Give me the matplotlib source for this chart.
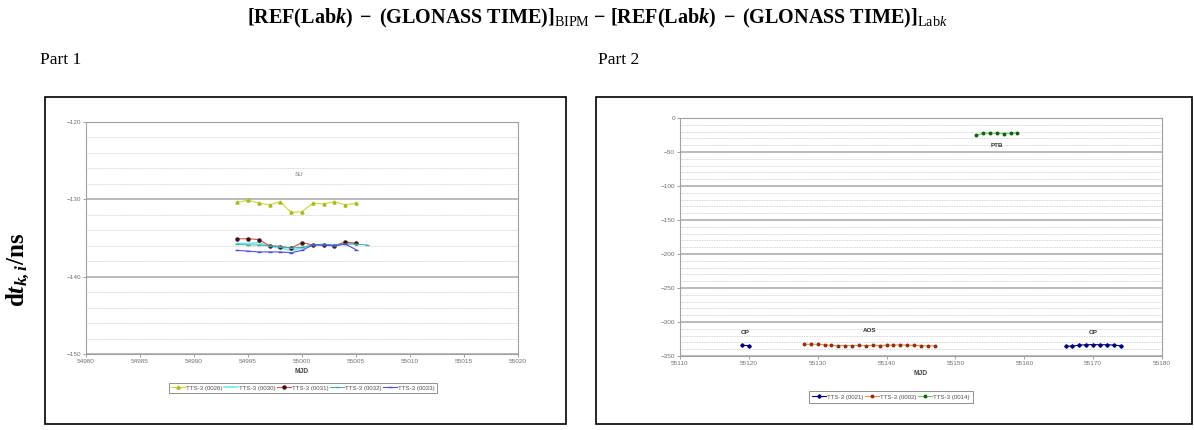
import matplotlib
matplotlib.use('Agg')
import matplotlib.pyplot as plt
from matplotlib.patches import Rectangle
from matplotlib.ticker import MultipleLocator

plt.rcParams['mathtext.fontset'] = 'custom'
plt.rcParams['mathtext.rm'] = 'Liberation Serif'
plt.rcParams['mathtext.bf'] = 'Liberation Serif:bold'
plt.rcParams['mathtext.it'] = 'Liberation Serif:italic'
plt.rcParams['mathtext.bfit'] = 'Liberation Serif:bold:italic'

# Part 1 data (MJD, ns)
mjd1 = [54994, 54995, 54996, 54997, 54998, 54999, 55000, 55001, 55002, 55003, 55004, 55005]
mjd1_ext = mjd1 + [55006]
tts_0026 = [-130.4, -130.1, -130.5, -130.7, -130.3, -131.7, -131.6, -130.5, -130.6, -130.3, -130.7, -130.5]
tts_0030 = [-135.7, -135.7, -135.6, -136.1, -136.3, -136.6, -136.3, -135.9, -135.9, -136.0, -135.7, -135.6]
tts_0031 = [-135.1, -135.1, -135.2, -136.0, -136.1, -136.3, -135.6, -135.9, -135.9, -136.0, -135.5, -135.7]
tts_0032 = [-135.8, -135.9, -135.9, -136.0, -136.1, -136.3, -136.2, -135.9, -135.8, -135.9, -135.8, -135.8, -135.9]
tts_0033 = [-136.6, -136.7, -136.8, -136.8, -136.8, -136.9, -136.6, -135.9, -135.9, -136.0, -135.8, -136.5]

# Part 2 data
mjd_op1 = [55119, 55120]
op1 = [-334.4, -334.6]
mjd_aos = list(range(55128, 55148))
aos = [-333.0, -332.6, -332.8, -333.4, -334.4, -334.9, -334.8, -334.6, -334.5, -334.7,
       -334.3, -334.6, -334.2, -333.8, -333.6, -334.0, -334.3, -334.7, -335.2, -335.0]
mjd_ptb = list(range(55153, 55160))
ptb = [-25.7, -22.3, -22.3, -22.3, -22.8, -22.3, -21.8]
mjd_op2 = list(range(55166, 55175))
op2 = [-335.6, -335.4, -334.0, -333.5, -333.2, -333.4, -333.5, -333.9, -335.0]

W, H = 1194, 430
fig = plt.figure(figsize=(W / 100, H / 100), dpi=100)

def fx(x):
    return x / W

def fy(y):
    return 1 - y / H

small = dict(family='Liberation Sans', size=4.5, color='#707070')

def style_axes(ax, ymaj, ymin):
    for s in ax.spines.values():
        s.set_color('#a0a0a0')
        s.set_linewidth(0.8)
    ax.yaxis.set_major_locator(MultipleLocator(ymaj))
    ax.yaxis.set_minor_locator(MultipleLocator(ymin))
    ax.grid(axis='y', which='major', color='#b4b4b4', lw=1.3)
    ax.grid(axis='y', which='minor', color='#c8c8c8', lw=0.6, ls=(0, (1, 1)))
    ax.set_axisbelow(True)
    ax.tick_params(which='both', length=2, width=0.6, color='#909090', pad=1.5,
                   labelsize=4.6, labelcolor='#707070')
    ax.tick_params(which='minor', length=0)
    for lab in ax.get_xticklabels() + ax.get_yticklabels():
        lab.set_family('Liberation Sans')
    ax.set_xlabel('MJD', family='Liberation Sans', size=4.8, weight='bold', color='#404040', labelpad=3)

# frames
fig.patches.append(Rectangle((fx(45), fy(424)), fx(521), 327 / H, transform=fig.transFigure,
                             fill=False, ec='black', lw=1.2))
fig.patches.append(Rectangle((fx(596), fy(424)), fx(596), 327 / H, transform=fig.transFigure,
                             fill=False, ec='black', lw=1.2))

# left chart
ax1 = fig.add_axes([fx(86), fy(354), fx(432), 232 / H])
ax1.plot(mjd1, tts_0026, color='#c8d838', lw=0.8, marker='^', ms=2.2, mfc='#a8b820', mec='#a8b820', label='TTS-3 (0026)')
ax1.plot(mjd1, tts_0030, color='#70e8f0', lw=1.2, label='TTS-3 (0030)')
ax1.plot(mjd1, tts_0031, color='#d05050', lw=0.8, marker='o', ms=2.2, mfc='#401010', mec='#401010', label='TTS-3 (0031)')
ax1.plot(mjd1_ext, tts_0032, color='#40a8a8', lw=0.7, marker='_', ms=2.5, label='TTS-3 (0032)')
ax1.plot(mjd1, tts_0033, color='#5050d8', lw=0.8, marker='_', ms=2.5, label='TTS-3 (0033)')
ax1.set_xlim(54980, 55020)
ax1.set_ylim(-150, -120)
ax1.xaxis.set_major_locator(MultipleLocator(5))
style_axes(ax1, 10, 2)
ax1.text(54999.3, -127, 'SU', **small)
leg1 = fig.legend(*ax1.get_legend_handles_labels(), loc='center', bbox_to_anchor=(fx(303), fy(388)),
                  ncol=5, prop={'family': 'Liberation Sans', 'size': 4.4}, frameon=True,
                  handlelength=2.2, columnspacing=0.3, handletextpad=0.2, borderpad=0.4)
leg1.get_frame().set_edgecolor('#606060')
leg1.get_frame().set_linewidth(0.6)
leg1.get_frame().set_boxstyle('square', pad=0)
for t in leg1.get_texts():
    t.set_color('#505050')

# right chart
ax2 = fig.add_axes([fx(680), fy(356), fx(482), 238 / H])
ax2.plot(mjd_op1, op1, color='#000080', lw=0.8, marker='D', ms=1.8, label='TTS-3 (0021)')
ax2.plot(mjd_op2, op2, color='#000080', lw=0.8, marker='D', ms=1.8)
ax2.plot(mjd_aos, aos, color='#f09050', lw=0.8, marker='o', ms=1.8, mfc='#903010', mec='#903010', label='TTS-3 (0002)')
ax2.plot(mjd_ptb, ptb, color='#60d060', lw=0.8, marker='o', ms=1.8, mfc='#106010', mec='#106010', label='TTS-3 (0014)')
ax2.set_xlim(55110, 55180)
ax2.set_ylim(-350, 0)
ax2.xaxis.set_major_locator(MultipleLocator(10))
style_axes(ax2, 50, 10)
lab = dict(family='Liberation Sans', size=4.5, color='#303030', weight='bold', ha='center')
ax2.text(55119.5, -318, 'OP', **lab)
ax2.text(55137.5, -315, 'AOS', **lab)
ax2.text(55156, -43, 'PTB', **lab)
ax2.text(55170, -318, 'OP', **lab)
leg2 = fig.legend(*ax2.get_legend_handles_labels(), loc='center', bbox_to_anchor=(fx(891), fy(397)),
                  ncol=3, prop={'family': 'Liberation Sans', 'size': 4.4}, frameon=True,
                  handlelength=2.2, columnspacing=0.3, handletextpad=0.2, borderpad=0.5)
leg2.get_frame().set_edgecolor('#606060')
leg2.get_frame().set_linewidth(0.6)
leg2.get_frame().set_boxstyle('square', pad=0)
for t in leg2.get_texts():
    t.set_color('#505050')

# page text
fig.text(0.5, fy(18),
         r'$\mathbf{[REF(Lab}\mathbfit{k}\mathbf{)\ -\ (GLONASS\ TIME)]}_{\mathrm{BIPM}}'
         r'\ \mathbf{-\ [REF(Lab}\mathbfit{k}\mathbf{)\ -\ (GLONASS\ TIME)]}_{\mathrm{Lab}\mathit{k}}$',
         ha='center', va='center', size=14.5)
fig.text(fx(40), fy(60), 'Part 1', family='Liberation Serif', size=12.5, va='center')
fig.text(fx(598), fy(60), 'Part 2', family='Liberation Serif', size=12.5, va='center')
fig.text(fx(18), fy(270), r'$\mathbf{d}\mathbfit{t}_{\mathbfit{k,i}}\mathbf{/ns}$', rotation=90,
         ha='center', va='center', size=18)

fig.savefig('out.png', dpi=100)
